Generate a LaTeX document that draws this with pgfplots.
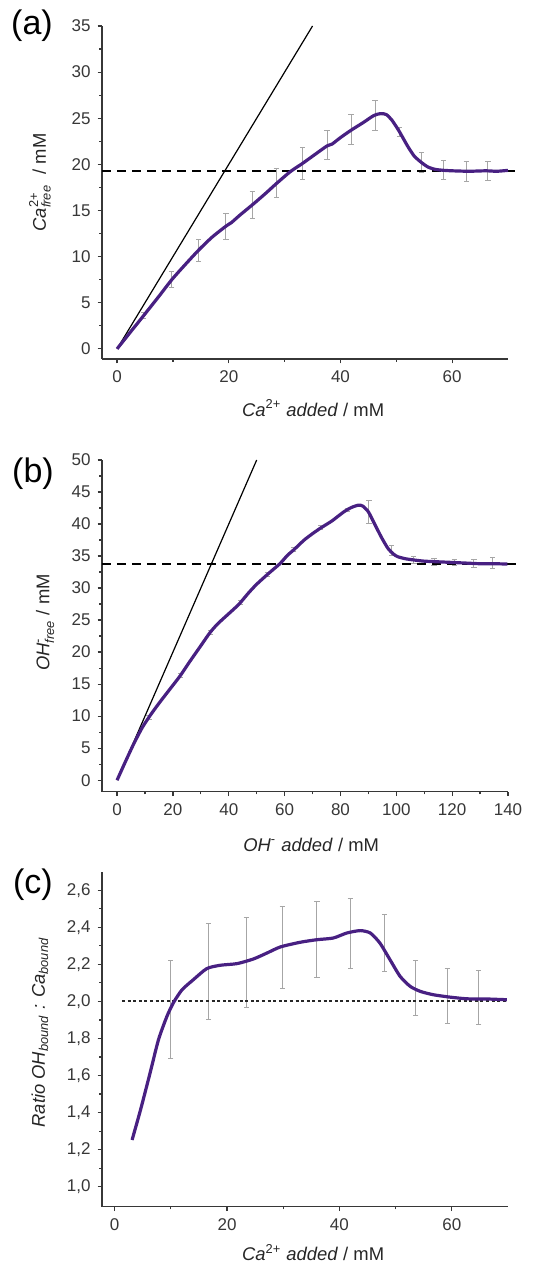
\documentclass[border=0pt]{standalone}
\usepackage{pgfplots}
\pgfplotsset{compat=1.18}
\usepackage{amsmath}
\usepackage{fontspec}
\setmainfont{Liberation Sans}
\definecolor{curve}{RGB}{72,32,130}
\definecolor{axcol}{RGB}{55,55,55}
\pgfplotsset{
  panel/.style={
    scale only axis, width=203pt,
    axis x line*=bottom, axis y line*=left,
    axis line style={axcol, line width=0.6pt, -},
    tick align=outside, tick style={axcol, line width=0.6pt},
    major tick length=2.2pt, minor tick length=1.3pt,
    minor x tick num=1, minor y tick num=1,
    tick label style={font=\fontsize{8.5}{9}\selectfont, text=axcol},
    label style={font=\fontsize{9.2}{10}\selectfont, text=black!85},
    /pgf/number format/assume math mode=true,
    clip=false,
    anchor=south west,
  },
  ebar/.style={draw=none, mark=none, forget plot,
    error bars/.cd, y dir=both, y explicit,
    error bar style={gray!70, line width=0.5pt},
    error mark options={gray!70, rotate=90, mark size=1.3pt, line width=0.5pt}},
}
\begin{document}
\begin{tikzpicture}
\useasboundingbox (0pt,0pt) rectangle (266.5pt,634pt);
% ---------------- (a)
\begin{axis}[panel, at={(51pt,454.5pt)}, height=166.5pt,
  xmin=-2.7, xmax=70, ymin=-1.1, ymax=35,
  xtick={0,20,40,60}, ytick={0,5,...,35},
  xlabel={\textit{Ca}$^{\text{2+}}$ \textit{added} / mM},
  ylabel={\textit{Ca}$^{\text{2+}}_{\text{\itshape free}}$\ \ / mM},
  xlabel style={at={(axis description cs:0.52,-0.147)}, anchor=center},
  ylabel style={at={(axis description cs:-0.153,0.53)}, anchor=center},
]
\addplot[ebar] table[y error index=2] {
4.75 3.6 0.3
9.8 7.5 0.9
14.6 10.7 1.2
19.5 13.3 1.4
24.2 15.6 1.5
28.5 18.0 1.6
33.2 20.1 1.7
37.6 22.1 1.6
41.9 23.8 1.6
46.2 25.3 1.6
50.5 23.5 0.5
54.5 20.2 1.1
58.5 19.4 1.0
62.5 19.2 1.1
66.4 19.3 1.0
};
\addplot[black, line width=0.6pt] coordinates {(0,0) (35,35)};
\addplot[black, line width=1.1pt, dash pattern=on 4.5pt off 3pt] coordinates {(-2.7,19.25) (71.3,19.25)};
\addplot[curve, line width=1.6pt, smooth, tension=0.4] coordinates {
(0,0) (2.5,1.9) (4.75,3.6) (7.5,5.7) (9.8,7.5) (12,9.0) (14.6,10.7) (17,12.1)
(19.5,13.3) (20.5,13.7) (22,14.5) (24.2,15.6) (26.5,16.8) (28.5,17.9) (31,19.2)
(33.2,20.1) (35.5,21.1) (37.6,22.0) (38.5,22.2) (40,22.9) (41.9,23.7) (44,24.5)
(46,25.3) (47.2,25.5) (48.2,25.4) (49.2,24.8) (50.5,23.6) (52,22.0) (53.2,20.9)
(54.5,20.2) (55.7,19.7) (57,19.45) (58.5,19.35) (60,19.3) (63,19.25) (66,19.3)
(68,19.25) (70,19.35)};
\end{axis}
\node[font=\fontsize{17}{20}\selectfont] at (16pt,621pt) {(a)};
% ---------------- (b)
\begin{axis}[panel, at={(51pt,238.15pt)}, height=165.85pt,
  xmin=-5.4, xmax=140, ymin=-1.8, ymax=50,
  xtick={0,20,...,140}, ytick={0,5,...,50},
  xlabel={\textit{OH}$^{\text{-}}$ \textit{added} / mM},
  ylabel={\textit{OH}$^{\text{-}}_{\text{\itshape free}}$ / mM},
  xlabel style={at={(axis description cs:0.515,-0.16)}, anchor=center},
  ylabel style={at={(axis description cs:-0.14,0.51)}, anchor=center},
]
\addplot[ebar] table[y error index=2] {
11.4 9.8 0.3
22.7 16.3 0.3
33.5 23.1 0.3
44.2 27.7 0.3
53.8 32.1 0.3
63.3 36.0 0.3
72.9 39.4 0.3
82.4 42.2 0.3
90.2 41.9 1.8
98.4 35.9 0.8
106.3 34.4 0.6
113.5 34.1 0.5
120.7 34.0 0.5
127.8 33.8 0.6
134.4 33.9 0.9
};
\addplot[black, line width=0.6pt] coordinates {(0,0) (50,50)};
\addplot[black, line width=1.1pt, dash pattern=on 4.5pt off 3pt] coordinates {(-5.4,33.75) (143.4,33.75)};
\addplot[curve, line width=1.6pt, smooth, tension=0.4] coordinates {
(0,0) (3,2.9) (6,5.7) (9,8.2) (12,10.2) (15,12.0) (18,13.7) (22.6,16.3) (26,18.5)
(30,21.0) (33.2,23.0) (36,24.4) (40,26.0) (43.7,27.5) (47,29.2) (50,30.6)
(54.3,32.3) (58.3,33.8) (61,35.1) (63.6,36.1) (67,37.5) (70,38.5) (73,39.4)
(77,40.5) (81.2,41.9) (84,42.6) (86.5,42.95) (88,42.8) (90,41.9) (92,40.2)
(94.7,37.9) (97,36.2) (99,35.3) (100.5,34.9) (103,34.6) (106,34.4) (110,34.2)
(115,34.1) (120,34.0) (125,33.9) (130,33.8) (135,33.8) (139.8,33.75)};
\end{axis}
\node[font=\fontsize{17}{20}\selectfont] at (16.5pt,397pt) {(b)};
% ---------------- (c)
\begin{axis}[panel, at={(51pt,30.65pt)}, height=167.5pt,
  xmin=-2.25, xmax=70, ymin=0.892, ymax=2.70,
  xtick={0,20,40,60}, ytick={1.0,1.2,...,2.61},
  yticklabel style={/pgf/number format/.cd, fixed, fixed zerofill, precision=1, use comma},
  xlabel={\textit{Ca}$^{\text{2+}}$ \textit{added} / mM},
  ylabel={\textit{Ratio OH}$_{\text{\itshape bound}}$ \textit{: Ca}$_{\text{\itshape bound}}$},
  xlabel style={at={(axis description cs:0.52,-0.137)}, anchor=center},
  ylabel style={at={(axis description cs:-0.153,0.52)}, anchor=center},
]
\addplot[ebar] table[y error index=2] {
10.0 1.956 0.264
16.7 2.164 0.259
23.4 2.211 0.243
29.8 2.291 0.219
36.0 2.334 0.203
41.9 2.366 0.189
48.0 2.314 0.153
53.6 2.073 0.149
59.2 2.031 0.149
64.8 2.021 0.147
};
\addplot[black!85, line width=0.9pt, dash pattern=on 1.5pt off 1.3pt] coordinates {(1.3,2.0) (70,2.0)};
\addplot[curve, line width=1.6pt, smooth, tension=0.4] coordinates {
(3.1,1.252) (4.6,1.414) (6.3,1.613) (7.8,1.793) (9.3,1.919) (10.5,1.995)
(12.0,2.063) (14.0,2.117) (16.4,2.177) (18.8,2.195) (21.8,2.204) (24.7,2.229)
(27.1,2.261) (29.5,2.294) (33.0,2.319) (36.0,2.333) (38.9,2.342) (41.3,2.369)
(43.7,2.382) (45.5,2.369) (47.2,2.315) (49.0,2.225) (50.8,2.135) (52.6,2.081)
(54.4,2.054) (56.7,2.036) (59.7,2.023) (62.7,2.014) (66.2,2.013) (69.8,2.009)};
\end{axis}
\node[font=\fontsize{17}{20}\selectfont] at (16.5pt,191.5pt) {(c)};
\end{tikzpicture}
\end{document}
